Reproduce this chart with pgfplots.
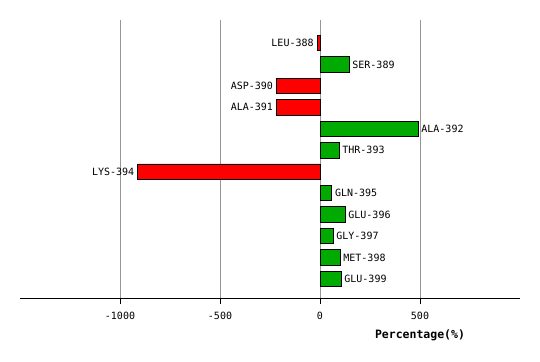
\documentclass[border=0pt]{standalone}
\usepackage{pgfplots}
\pgfplotsset{compat=1.18}
\usepackage{pgfplotstable}
\usepackage{fontspec}
\setmainfont{DejaVu Sans Mono}
\definecolor{barred}{RGB}{255,0,0}
\definecolor{bargreen}{RGB}{0,170,0}
\definecolor{gridgray}{RGB}{150,150,150}
\pgfplotstableread{
y x label
0 -15 LEU-388
2 -218 ASP-390
3 -218 ALA-391
6 -912 LYS-394
}\negdata
\pgfplotstableread{
y x label
1 145 SER-389
4 490 ALA-392
5 95 THR-393
7 58 GLN-395
8 125 GLU-396
9 65 GLY-397
10 100 MET-398
11 105 GLU-399
}\posdata
\begin{document}
\begin{tikzpicture}
\path (-20pt,-63pt) rectangle (520pt,298pt);
\begin{axis}[
  at={(0,0)}, anchor=south west,
  scale only axis, width=500pt, height=278pt,
  xmin=-1500, xmax=1000,
  ymin=-1.07, ymax=11.89, y dir=reverse,
  axis x line=bottom, axis y line=none,
  axis line style={-, black, line width=0.8pt},
  xtick={-1000,-500,0,500},
  xtick align=outside,
  major tick length=6pt,
  tick style={black, line width=0.8pt},
  xmajorgrids,
  grid style={gridgray, line width=0.8pt},
  ytick=\empty,
  /pgf/number format/assume math mode=true,
  /pgf/number format/1000 sep={},
  xticklabel style={font=\fontsize{10}{12}\selectfont, yshift=-5pt},
  xlabel={\textbf{Percentage(\%)}},
  xlabel style={at={(rel axis cs:0.8,0)}, anchor=center, yshift=-37pt, font=\fontsize{11.5}{13}\selectfont},
  clip=false,
]
\addplot[xbar, bar shift=0pt, bar width=15.5pt, fill=barred, draw=black, line width=0.8pt,
  point meta=explicit symbolic,
  nodes near coords,
  nodes near coords style={anchor=east, font=\fontsize{10}{12}\selectfont, black, inner sep=3pt}]
  table[x=x, y=y, meta=label] {\negdata};
\addplot[xbar, bar shift=0pt, bar width=15.5pt, fill=bargreen, draw=black, line width=0.8pt,
  point meta=explicit symbolic,
  nodes near coords,
  nodes near coords style={anchor=west, font=\fontsize{10}{12}\selectfont, black, inner sep=3pt}]
  table[x=x, y=y, meta=label] {\posdata};
\end{axis}
\end{tikzpicture}
\end{document}
